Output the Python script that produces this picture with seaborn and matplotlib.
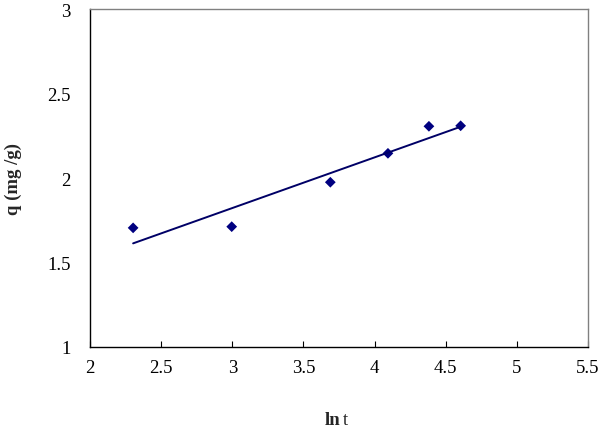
import numpy as np
import pandas as pd
import matplotlib
matplotlib.use("Agg")
import matplotlib.pyplot as plt
import seaborn as sns

# ln t 与 q 数据
ln_t = [2.303, 2.996, 3.689, 4.094, 4.382, 4.605]
q_vals = [1.705, 1.712, 1.975, 2.146, 2.306, 2.309]

x_ticks = [2, 2.5, 3, 3.5, 4, 4.5, 5, 5.5]
y_ticks = [1, 1.5, 2, 2.5, 3]

data = pd.DataFrame({'ln_t': ln_t, 'q': q_vals})

sns.set_theme(style="white")
plt.rcParams['font.family'] = ['Liberation Serif', 'DejaVu Serif']

fig = plt.figure(figsize=(6, 4.35), dpi=100)
ax = fig.add_axes([0.15, 0.20, 0.83, 0.777])

# 散点 + 线性拟合
sns.regplot(x='ln_t', y='q', data=data, ci=None, ax=ax,
            marker='D', color='#000080',
            scatter_kws={'s': 30, 'edgecolor': 'none', 'alpha': 1},
            line_kws={'color': '#000066', 'linewidth': 1.4})

ax.set_xlim(2, 5.5)
ax.set_ylim(1, 3)
ax.set_xticks(x_ticks)
ax.set_xticklabels([f'{v:g}' for v in x_ticks])
ax.set_yticks(y_ticks)
ax.set_yticklabels([f'{v:g}' for v in y_ticks])
ax.tick_params(axis='x', direction='in', length=4, width=0.8, pad=9,
               labelsize=13.5, bottom=True, colors='black')
ax.tick_params(axis='y', length=0, pad=14, labelsize=13.5, colors='black')

for side in ['left', 'bottom']:
    ax.spines[side].set_color('black')
    ax.spines[side].set_linewidth(1.0)
for side in ['top', 'right']:
    ax.spines[side].set_color('#808080')
    ax.spines[side].set_linewidth(1.0)

ax.set_xlabel('')
ax.set_ylabel('q (mg /g)', fontsize=13.5, fontweight='bold', labelpad=18)

# x 轴标题：ln 粗体，t 常规
fig.text(0.541, 0.034, 'ln', fontsize=13.5, fontweight='bold', ha='left', va='center')
fig.text(0.572, 0.034, 't', fontsize=13.5, ha='left', va='center')

fig.savefig('out.png', dpi=100)
